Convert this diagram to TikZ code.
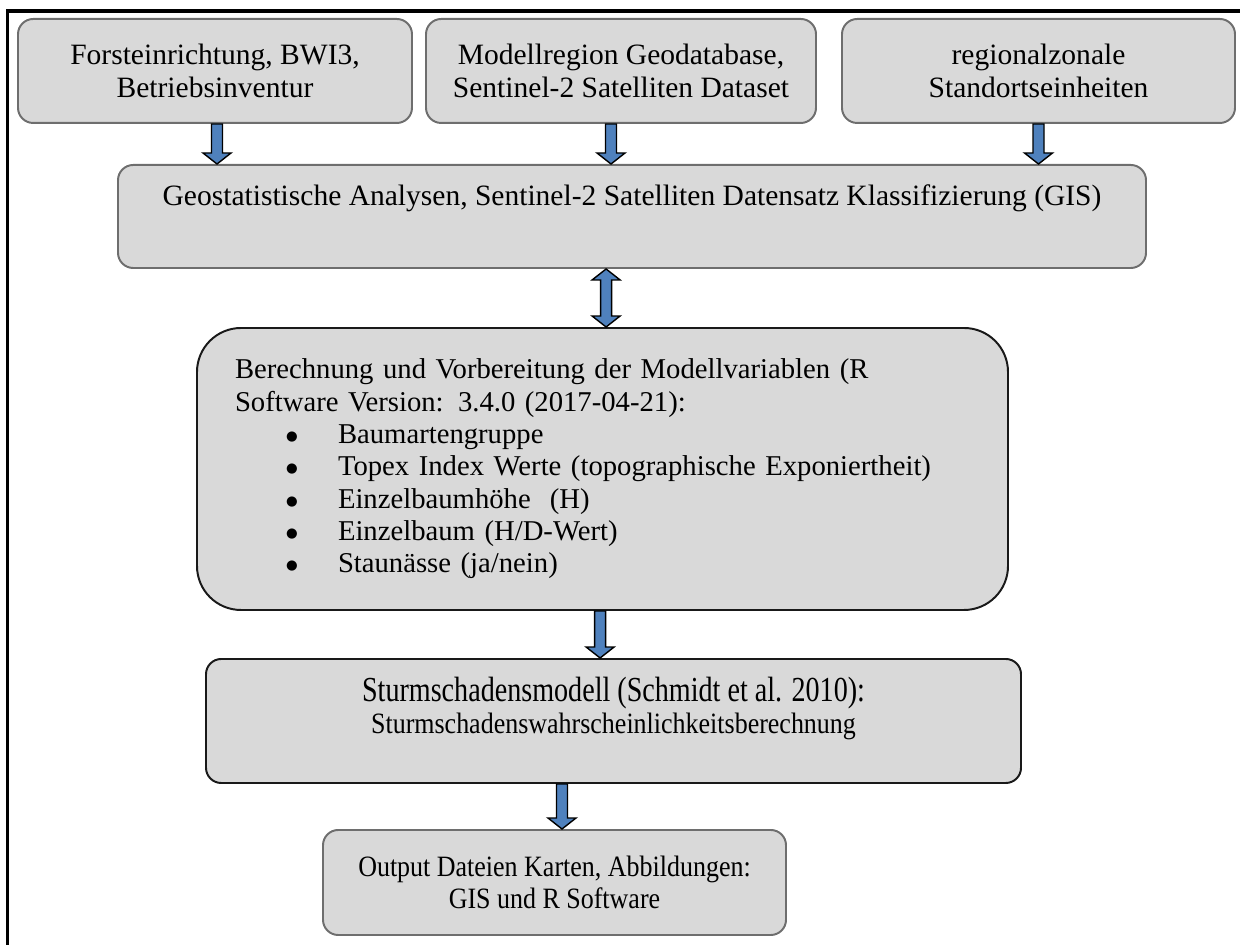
\documentclass[tikz,border=0pt]{standalone}
\usepackage{fontspec}
\setmainfont{Liberation Serif}
\newfontfamily\symfont{DejaVu Sans}
\usetikzlibrary{positioning, calc}

\definecolor{boxgray}{HTML}{D9D9D9}
\definecolor{edgegray}{HTML}{6E6E6E}
\definecolor{arrowblue}{HTML}{4F81BD}

\newcommand{\itembullet}{\hspace*{1.28cm}\makebox[1.295cm][l]{\raisebox{2.2pt}{\symfont\fontsize{9.5}{9.5}\selectfont ●}}}

% fat block arrow pointing down, from node #2 to node #3 (#1 = x shift)
\newcommand{\fatdown}[3][0]{%
  \path ($(#2.south)+(#1,0)$) coordinate (ft) (ft |- #3.north) coordinate (fh);
  \filldraw[fatarrow] ($(ft)+(-0.1375,0)$) -- ($(fh)+(-0.1375,0.275)$) -- ($(fh)+(-0.35,0.275)$)
    -- (fh) -- ($(fh)+(0.35,0.275)$) -- ($(fh)+(0.1375,0.275)$) -- ($(ft)+(0.1375,0)$) -- cycle;}
% fat block arrow with two heads
\newcommand{\fatboth}[3][0]{%
  \path ($(#3.north)+(#1,0)$) coordinate (fh) (fh |- #2.south) coordinate (ft);
  \filldraw[fatarrow] (ft) -- ($(ft)+(0.35,-0.275)$) -- ($(ft)+(0.1375,-0.275)$) -- ($(fh)+(0.1375,0.275)$)
    -- ($(fh)+(0.35,0.275)$) -- (fh) -- ($(fh)+(-0.35,0.275)$) -- ($(fh)+(-0.1375,0.275)$)
    -- ($(ft)+(-0.1375,-0.275)$) -- ($(ft)+(-0.35,-0.275)$) -- cycle;}

\begin{document}
\begin{tikzpicture}[
    box/.style={draw=edgegray, line width=1.4pt, fill=boxgray, rounded corners=0.38cm, align=center,
      inner sep=0pt, font=\fontsize{21}{23}\selectfont},
    fatarrow/.style={draw=black, fill=arrowblue, line width=1pt, line join=miter}
  ]
  \useasboundingbox (0,0) rectangle (31,23.625);

  % --- frame (left and top only) ---
  \draw[line width=2.2pt] (0.19,0) -- (0.19,23.35) -- (31,23.35);

  % --- Input data ---
  \node[box, minimum width=9.85cm, minimum height=2.6cm] (forst) at (5.375,21.85) {Forsteinrichtung, BWI3,\\Betriebsinventur};
  \node[box, minimum width=9.75cm, minimum height=2.6cm] (geodb) at (15.525,21.85) {Modellregion Geodatabase,\\Sentinel-2 Satelliten Dataset};
  \node[box, minimum width=9.825cm, minimum height=2.6cm] (stand) at (25.9625,21.85) {regionalzonale\\Standortseinheiten};

  % --- GIS ---
  \node[box, minimum width=25.7cm, minimum height=2.575cm] (gis) at (15.8,18.2125)
    {Geostatistische Analysen, Sentinel-2 Satelliten Datensatz Klassifizierung (GIS)\\ \strut};

  % --- R variables ---
  \node[box, draw=black!90, rounded corners=1.1cm, minimum width=20.275cm, minimum height=7.05cm,
    text width=18.375cm, align=left, font=\fontsize{20.4}{23}\selectfont] (rvar) at (15.0625,11.9)
    {Berechnung und Vorbereitung der Modellvariablen (R\\
     Software Version: 3.4.0 (2017-04-21):\\
     \itembullet Baumartengruppe\\
     \itembullet Topex Index Werte (topographische Exponiertheit)\\
     \itembullet Einzelbaumhöhe\ \ (H)\\
     \itembullet Einzelbaum (H/D-Wert)\\
     \itembullet Staunässe (ja/nein)};

  % --- Storm model ---
  \node[box, draw=black!90, minimum width=20.375cm, minimum height=3.1cm] (storm) at (15.3375,5.6)
    {\scalebox{0.8}[1]{\fontsize{25}{23}\selectfont Sturmschadensmodell (Schmidt et al. 2010):}\\
     \scalebox{0.88}[1]{\fontsize{21}{23}\selectfont Sturmschadenswahrscheinlichkeitsberechnung}\\[-8pt]\strut};

  % --- Output ---
  \node[box, minimum width=11.575cm, minimum height=2.625cm] (output) at (13.8625,1.5625)
    {\scalebox{0.88}[1]{Output Dateien Karten, Abbildungen:}\\\scalebox{0.88}[1]{GIS und R Software}};

  % --- Arrows ---
  \fatdown[0.05]{forst}{gis}
  \fatdown[-0.25]{geodb}{gis}
  \fatdown{stand}{gis}
  \fatboth[0.09]{gis}{rvar}
  \fatdown[-0.06]{rvar}{storm}
  \fatdown[-1.2875]{storm}{output}

\end{tikzpicture}
\end{document}
